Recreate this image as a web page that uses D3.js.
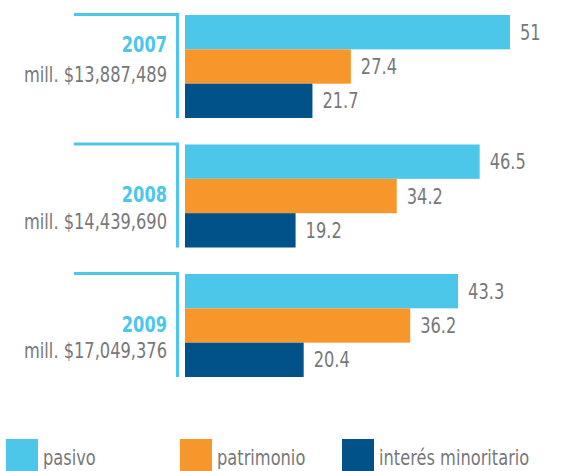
<!DOCTYPE html>
<html><head><meta charset="utf-8">
<script src="https://cdn.jsdelivr.net/npm/d3@7/dist/d3.min.js"></script>
<style>
html,body{margin:0;padding:0;background:#fff;}
svg{display:block;font-family:"DejaVu Sans Condensed","Liberation Sans Narrow",sans-serif;}
</style></head>
<body>
<svg id="chart" width="566" height="471"></svg>
<script>
const years = ["2007", "2008", "2009"];
const totals = ["mill. $13,887,489", "mill. $14,439,690", "mill. $17,049,376"];
const series = ["pasivo", "patrimonio", "interés minoritario"];
const pasivo = [51, 46.5, 43.3];
const patrimonio = [27.4, 34.2, 36.2];
const interes = [21.7, 19.2, 20.4];
const valueLabels = [["51", "27.4", "21.7"], ["46.5", "34.2", "19.2"], ["43.3", "36.2", "20.4"]];

const colors = ["#4cc7ea", "#f7962a", "#005288"];
const textGray = "#77787b";
const values = [pasivo, patrimonio, interes];
const SX = 0.86;

const svg = d3.select("#chart");
const x = d3.scaleLinear().domain([2.8, 51]).range([185, 510]);
const y0 = d3.scaleBand().domain(years).range([15, 377]).paddingInner(0.2046);
const y1 = d3.scaleBand().domain(series).range([0, y0.bandwidth()]);

function label(parent, tx, ty, txt, fill, anchor, bold) {
  return parent.append("text")
    .attr("transform", `translate(${tx},${ty}) scale(${SX},1)`)
    .attr("text-anchor", anchor || "start")
    .attr("font-weight", bold ? "bold" : "normal")
    .attr("fill", fill).attr("font-size", 21).text(txt);
}

years.forEach((yr, i) => {
  const g = svg.append("g").attr("transform", `translate(0,${y0(yr)})`);
  g.append("path")
    .attr("d", `M74,-0.5 H177.5 V${y0.bandwidth()}`)
    .attr("fill", "none").attr("stroke", colors[0]).attr("stroke-width", 3);
  series.forEach((s, j) => {
    const v = values[j][i];
    g.append("rect")
      .attr("x", x.range()[0]).attr("y", y1(s))
      .attr("width", x(v) - x.range()[0]).attr("height", y1.bandwidth())
      .attr("fill", colors[j]);
    label(g, x(v) + 10, y1(s) + y1.bandwidth() / 2 + 7.5, valueLabels[i][j], textGray);
  });
  const yYear = i === 0 ? 37 : 58;
  const ySub = i === 0 ? 67 : 84.5;
  label(g, 167, yYear, yr, colors[0], "end", true);
  label(g, 167, ySub, totals[i], textGray, "end");
});

const legendX = [6, 180, 342];
const lg = svg.append("g");
series.forEach((s, j) => {
  lg.append("rect").attr("x", legendX[j]).attr("y", 439).attr("width", 32).attr("height", 32).attr("fill", colors[j]);
  label(lg, legendX[j] + 37, 465, s, textGray);
});
</script>
</body></html>
